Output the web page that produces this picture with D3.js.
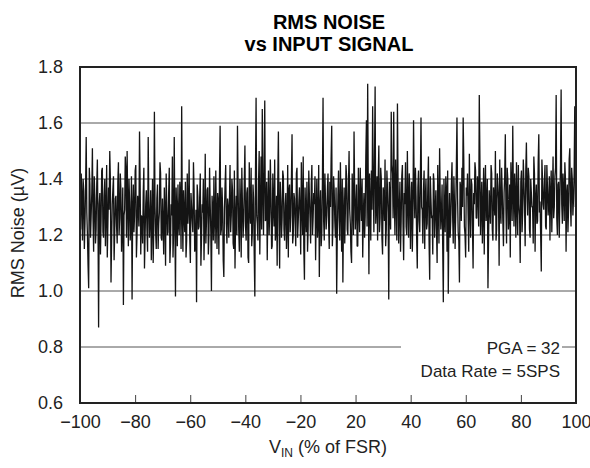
<!DOCTYPE html>
<html>
<head>
<meta charset="utf-8">
<script src="https://cdn.jsdelivr.net/npm/d3@7"></script>
<style>
  body { margin: 0; background: #fff; }
  svg { display: block; font-family: "Liberation Sans", Arial, Helvetica, sans-serif; }
</style>
</head>
<body>
<div id="chart"></div>
<script>
// RMS noise readings at every 0.5 % FSR step (spans of 20 %)
const span_m100 = [1.30, 1.42, 1.18, 1.36, 1.24, 1.55, 1.20, 1.01, 1.38, 1.27,
  1.51, 1.14, 1.33, 1.22, 1.47, 0.87, 1.35, 1.25, 1.44, 1.19,
  1.40, 1.28, 1.12, 1.37, 1.50, 1.03, 1.31, 1.41, 1.21, 1.34,
  1.17, 1.46, 1.26, 1.36, 1.23, 0.95, 1.29, 1.43, 1.50, 1.16];
const span_m80 = [1.32, 1.24, 0.97, 1.38, 1.27, 1.45, 1.20, 1.30, 1.57, 1.13,
  1.26, 1.35, 1.08, 1.31, 1.22, 1.55, 1.19, 1.36, 1.25, 1.10,
  1.64, 1.21, 1.33, 1.15, 1.28, 1.42, 1.18, 1.24, 1.37, 1.09,
  1.30, 1.21, 1.44, 1.17, 1.27, 1.12, 1.55, 0.98, 1.29, 1.38];
const span_m60 = [1.20, 1.33, 1.66, 1.14, 1.27, 1.39, 1.18, 1.24, 1.47, 1.10,
  1.30, 1.21, 1.36, 1.16, 0.96, 1.34, 1.23, 1.42, 1.19, 1.28,
  1.11, 1.49, 1.25, 1.37, 1.20, 1.31, 1.00, 1.29, 1.41, 1.17,
  1.26, 1.35, 1.13, 1.59, 1.22, 1.30, 1.05, 1.38, 1.24, 1.33];
const span_m40 = [1.19, 1.45, 1.27, 1.36, 1.15, 1.08, 1.34, 1.59, 1.22, 1.40,
  1.12, 1.31, 1.25, 1.52, 1.18, 1.37, 1.10, 1.29, 1.44, 1.21,
  1.33, 0.98, 1.69, 1.24, 1.39, 1.13, 1.48, 1.65, 1.20, 1.68,
  1.26, 1.11, 1.43, 1.28, 1.35, 1.16, 1.30, 1.47, 1.22, 1.09];
const span_m20 = [1.57, 1.08, 1.32, 1.26, 1.41, 1.18, 1.35, 1.23, 1.12, 1.38,
  1.27, 1.56, 1.20, 1.33, 1.16, 1.44, 1.25, 1.37, 1.13, 1.30,
  1.48, 1.04, 1.28, 1.39, 1.22, 1.34, 1.17, 1.45, 1.26, 1.31,
  1.11, 1.40, 1.24, 1.05, 1.36, 1.21, 1.69, 1.18, 1.32, 1.27];
const span_0 = [1.42, 1.15, 1.30, 1.59, 1.23, 1.36, 1.19, 0.99, 1.34, 1.26,
  1.46, 1.14, 1.03, 1.37, 1.28, 1.41, 1.20, 1.50, 1.24, 1.10,
  1.33, 1.57, 1.22, 1.38, 1.16, 1.29, 1.44, 1.25, 1.12, 1.35,
  1.27, 1.61, 1.74, 1.06, 1.31, 1.43, 1.66, 1.21, 1.73, 1.30];
const span_20 = [1.18, 1.52, 1.26, 1.40, 1.13, 1.34, 1.47, 1.22, 1.36, 0.97,
  1.30, 1.64, 1.42, 1.64, 1.20, 1.33, 1.67, 1.17, 1.39, 1.25,
  1.45, 1.11, 1.31, 1.23, 1.50, 1.19, 1.37, 1.28, 1.14, 1.61,
  1.26, 1.34, 1.08, 1.43, 1.21, 1.62, 1.29, 1.36, 1.15, 1.40];
const span_40 = [1.24, 1.48, 1.04, 1.33, 1.27, 1.42, 1.19, 1.36, 1.10, 1.30,
  1.51, 1.22, 1.38, 0.96, 1.29, 1.41, 1.14, 0.99, 1.35, 1.25,
  1.46, 1.17, 1.32, 1.28, 1.62, 1.21, 1.03, 1.37, 1.44, 1.62,
  1.23, 1.12, 1.34, 1.27, 1.49, 1.19, 1.38, 1.08, 1.31, 1.43];
const span_60 = [1.26, 1.35, 1.70, 1.20, 1.39, 1.28, 1.13, 1.45, 1.31, 1.01,
  1.36, 1.24, 1.42, 1.18, 1.33, 1.50, 1.22, 1.38, 1.09, 1.29,
  1.44, 1.25, 1.35, 1.56, 1.17, 1.40, 1.27, 1.12, 1.37, 1.59,
  1.23, 1.34, 1.46, 1.20, 1.31, 1.10, 1.43, 1.28, 1.39, 1.16];
const span_80 = [1.53, 1.27, 1.41, 1.19, 1.35, 1.30, 1.48, 1.14, 1.38, 1.25,
  1.56, 1.32, 1.07, 1.40, 1.29, 1.45, 1.22, 1.37, 1.31, 1.18,
  1.43, 1.34, 1.26, 1.41, 1.70, 1.20, 1.39, 1.33, 1.72, 1.24,
  1.36, 1.46, 1.14, 1.38, 1.29, 1.51, 1.23, 1.40, 1.33, 1.66, 1.35];

// readings between them (offset by 0.25 % FSR)
const mid_m100 = [1.22, 1.33, 1.40, 1.15, 1.37, 1.28, 1.09, 1.44, 1.19, 1.35,
  1.26, 1.41, 1.17, 1.38, 1.25, 1.31, 1.13, 1.43, 1.21, 1.34,
  1.16, 1.45, 1.24, 1.29, 1.40, 1.18, 1.36, 1.11, 1.33, 1.23,
  1.39, 1.20, 1.42, 1.14, 1.37, 1.27, 1.48, 1.19, 1.31, 1.40];
const mid_m80 = [1.18, 1.41, 1.29, 1.21, 1.43, 1.12, 1.34, 1.23, 1.39, 1.27,
  1.17, 1.44, 1.20, 1.36, 1.14, 1.32, 1.26, 1.11, 1.40, 1.22,
  1.30, 1.15, 1.38, 1.24, 1.46, 1.19, 1.33, 1.13, 1.28, 1.42,
  1.20, 1.35, 1.10, 1.31, 1.48, 1.21, 1.26, 1.37, 1.16, 1.24];
const mid_m60 = [1.39, 1.15, 1.28, 1.36, 1.21, 1.12, 1.42, 1.30, 1.19, 1.35,
  1.25, 1.46, 1.14, 1.29, 1.38, 1.22, 1.33, 1.09, 1.31, 1.40,
  1.24, 1.17, 1.36, 1.13, 1.44, 1.21, 1.34, 1.18, 1.26, 1.43,
  1.15, 1.32, 1.41, 1.20, 1.37, 1.11, 1.29, 1.45, 1.17, 1.30];
const mid_m40 = [1.32, 1.21, 1.40, 1.17, 1.43, 1.26, 1.20, 1.37, 1.14, 1.31,
  1.44, 1.19, 1.39, 1.23, 1.35, 1.12, 1.46, 1.24, 1.16, 1.38,
  1.13, 1.41, 1.27, 1.18, 1.50, 1.29, 1.22, 1.36, 1.44, 1.25,
  1.39, 1.30, 1.20, 1.47, 1.15, 1.42, 1.23, 1.18, 1.34, 1.40];
const mid_m20 = [1.26, 1.39, 1.19, 1.43, 1.22, 1.31, 1.15, 1.45, 1.36, 1.21,
  1.40, 1.17, 1.35, 1.24, 1.42, 1.19, 1.32, 1.27, 1.46, 1.20,
  1.15, 1.37, 1.21, 1.14, 1.43, 1.26, 1.38, 1.20, 1.35, 1.41,
  1.28, 1.19, 1.45, 1.30, 1.16, 1.39, 1.25, 1.42, 1.22, 1.36];
const mid_0 = [1.24, 1.39, 1.47, 1.16, 1.41, 1.25, 1.37, 1.20, 1.43, 1.18,
  1.31, 1.40, 1.27, 1.17, 1.45, 1.22, 1.38, 1.29, 1.14, 1.42,
  1.20, 1.36, 1.30, 1.16, 1.44, 1.21, 1.33, 1.40, 1.27, 1.19,
  1.48, 1.23, 1.36, 1.42, 1.18, 1.29, 1.39, 1.47, 1.24, 1.41];
const mid_20 = [1.40, 1.21, 1.44, 1.19, 1.37, 1.25, 1.16, 1.43, 1.28, 1.39,
  1.22, 1.45, 1.26, 1.33, 1.47, 1.18, 1.38, 1.29, 1.14, 1.41,
  1.24, 1.35, 1.46, 1.20, 1.31, 1.42, 1.15, 1.39, 1.27, 1.36,
  1.44, 1.19, 1.37, 1.25, 1.40, 1.30, 1.17, 1.43, 1.33, 1.22];
const mid_40 = [1.37, 1.18, 1.41, 1.26, 1.13, 1.39, 1.29, 1.22, 1.45, 1.17,
  1.34, 1.28, 1.16, 1.40, 1.21, 1.36, 1.43, 1.24, 1.19, 1.38,
  1.27, 1.41, 1.15, 1.44, 1.33, 1.18, 1.39, 1.25, 1.30, 1.47,
  1.20, 1.37, 1.42, 1.14, 1.31, 1.40, 1.23, 1.35, 1.46, 1.26];
const mid_60 = [1.41, 1.23, 1.48, 1.30, 1.17, 1.44, 1.36, 1.25, 1.40, 1.19,
  1.30, 1.45, 1.22, 1.37, 1.27, 1.18, 1.42, 1.33, 1.47, 1.24,
  1.36, 1.16, 1.41, 1.29, 1.44, 1.22, 1.38, 1.46, 1.25, 1.35,
  1.42, 1.19, 1.31, 1.45, 1.27, 1.39, 1.21, 1.47, 1.30, 1.43];
const mid_80 = [1.36, 1.44, 1.22, 1.40, 1.30, 1.17, 1.42, 1.33, 1.24, 1.46,
  1.28, 1.20, 1.47, 1.31, 1.39, 1.23, 1.45, 1.27, 1.41, 1.35,
  1.21, 1.48, 1.30, 1.44, 1.26, 1.38, 1.19, 1.45, 1.31, 1.42,
  1.25, 1.40, 1.35, 1.21, 1.47, 1.32, 1.44, 1.27, 1.42, 1.30];

const spanStarts = [-100, -80, -60, -40, -20, 0, 20, 40, 60, 80];
const spans = [span_m100, span_m80, span_m60, span_m40, span_m20,
  span_0, span_20, span_40, span_60, span_80];
const mids = [mid_m100, mid_m80, mid_m60, mid_m40, mid_m20,
  mid_0, mid_20, mid_40, mid_60, mid_80];
const vinStep = 0.5;

// axis labels as printed (the sheet skips 0 and spaces the ten labels evenly)
const xTickLabels = ["\u2212100", "\u221280", "\u221260", "\u221240", "\u221220",
  "20", "40", "60", "80", "100"];
const yTicks = [0.6, 0.8, 1.0, 1.2, 1.4, 1.6, 1.8];
const legendLines = ["PGA = 32", "Data Rate = 5SPS"];

// 1) basic dimensions
const width = 590;
const height = 468;
const margin = { top: 67, right: 14, bottom: 65, left: 80 };
const plotRight = width - margin.right;
const plotBottom = height - margin.bottom;

const svg = d3.select("#chart")
  .append("svg")
  .attr("width", width)
  .attr("height", height);

// 2) prepare data
const points = [];
spans.forEach((arr, s) => {
  arr.forEach((v, i) => points.push({ vin: spanStarts[s] + i * vinStep, noise: v }));
});
mids.forEach((arr, s) => {
  arr.forEach((v, i) => points.push({ vin: spanStarts[s] + vinStep / 2 + i * vinStep, noise: v }));
});
points.sort((a, b) => a.vin - b.vin);

// 3) scales
const x = d3.scaleLinear().domain([-100, 100]).range([margin.left, plotRight]);
const xLab = d3.scalePoint().domain(xTickLabels).range([margin.left, plotRight]);
const y = d3.scaleLinear().domain([0.6, 1.8]).range([plotBottom, margin.top]);

// 4) gridlines
svg.append("g")
  .selectAll("line")
  .data(yTicks.slice(1, -1))
  .join("line")
  .attr("x1", margin.left)
  .attr("x2", plotRight)
  .attr("y1", (d) => y(d))
  .attr("y2", (d) => y(d))
  .attr("stroke", "#555")
  .attr("stroke-width", 1);

// 5) noise trace
const line = d3.line()
  .x((d) => x(d.vin))
  .y((d) => y(d.noise));

svg.append("path")
  .datum(points)
  .attr("d", line)
  .attr("fill", "none")
  .attr("stroke", "#141414")
  .attr("stroke-width", 1.3)
  .attr("stroke-linejoin", "bevel");

// 6) legend box (white backing hides the gridline)
const legend = svg.append("g");
legend.append("rect")
  .attr("x", 401)
  .attr("y", 336)
  .attr("width", 161)
  .attr("height", 48)
  .attr("fill", "#fff");
legend.selectAll("text")
  .data(legendLines)
  .join("text")
  .attr("x", 560)
  .attr("y", (d, i) => 354 + i * 23)
  .attr("text-anchor", "end")
  .attr("fill", "#222")
  .style("font-size", "17px")
  .text((d) => d);

// 7) axes
const xAxis = d3.axisBottom(xLab).tickSizeInner(-8).tickSizeOuter(0).tickPadding(12);
const gx = svg.append("g")
  .attr("transform", `translate(0, ${plotBottom})`)
  .call(xAxis);
gx.select(".domain").remove();
gx.selectAll("line").attr("stroke", "#444");
gx.selectAll("text")
  .attr("fill", "#222")
  .style("font-size", "18px")
  .style("font-family", "'Liberation Sans', Arial, sans-serif");

const yAxis = d3.axisLeft(y).tickValues(yTicks).tickFormat(d3.format(".1f"))
  .tickSize(0).tickPadding(17);
const gy = svg.append("g")
  .attr("transform", `translate(${margin.left},0)`)
  .call(yAxis);
gy.select(".domain").remove();
gy.selectAll("text")
  .attr("fill", "#222")
  .style("font-size", "18px")
  .style("font-family", "'Liberation Sans', Arial, sans-serif");

// frame
svg.append("rect")
  .attr("x", margin.left)
  .attr("y", margin.top)
  .attr("width", plotRight - margin.left)
  .attr("height", plotBottom - margin.top)
  .attr("fill", "none")
  .attr("stroke", "#222")
  .attr("stroke-width", 2);

// 8) axis labels
const xTitle = svg.append("text")
  .attr("x", 328)
  .attr("y", 453)
  .attr("fill", "#222")
  .attr("text-anchor", "middle")
  .style("font-size", "18px");
xTitle.append("tspan").text("V");
xTitle.append("tspan").attr("dy", 4).style("font-size", "12px").text("IN");
xTitle.append("tspan").attr("dy", -4).text(" (% of FSR)");

svg.append("text")
  .attr("x", -233)
  .attr("y", 24)
  .attr("fill", "#222")
  .attr("text-anchor", "middle")
  .attr("transform", "rotate(-90)")
  .style("font-size", "18px")
  .text("RMS Noise (\u00b5V)");

// 9) title
svg.append("text")
  .attr("x", 329)
  .attr("y", 29)
  .attr("text-anchor", "middle")
  .attr("fill", "#000")
  .style("font-size", "20px")
  .style("font-weight", "bold")
  .text("RMS NOISE");

svg.append("text")
  .attr("x", 329)
  .attr("y", 51)
  .attr("text-anchor", "middle")
  .attr("fill", "#000")
  .style("font-size", "20px")
  .style("font-weight", "bold")
  .text("vs INPUT SIGNAL");
</script>
</body>
</html>
